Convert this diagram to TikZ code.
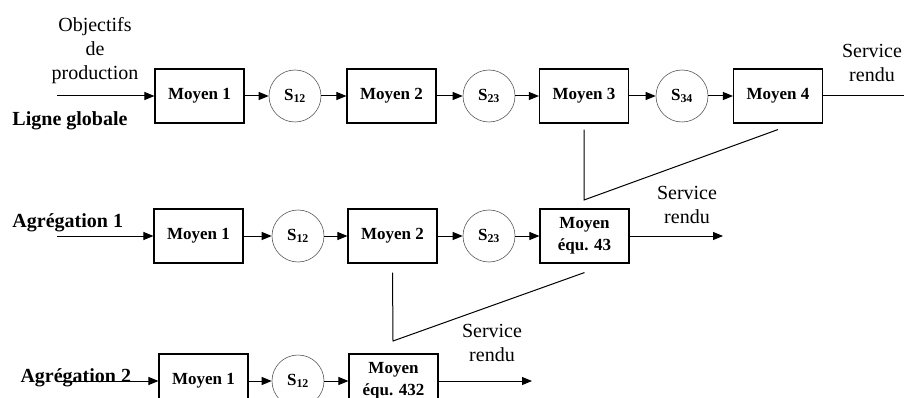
\documentclass[tikz,border=0pt]{standalone}
\usepackage{fontspec}
\setmainfont{Liberation Serif}
\usetikzlibrary{arrows.meta}

\begin{document}
\begin{tikzpicture}[x=1pt,y=-1pt,line width=1pt,>={Triangle[length=10pt,width=8pt]}]

\tikzstyle{moyen}=[draw,line width=1.1pt,minimum width=89pt,minimum height=54pt,inner sep=1pt,align=center,font=\fontsize{17}{22}\selectfont\bfseries];
\tikzstyle{stock}=[draw=black!65,circle,line width=0.6pt,minimum size=52pt,inner sep=0pt,font=\fontsize{17}{20}\selectfont\bfseries];
\tikzstyle{texte}=[align=center,font=\fontsize{20}{24}\selectfont];
\tikzstyle{ligne}=[anchor=base west,inner sep=0pt,font=\fontsize{20}{24}\selectfont\bfseries];

\useasboundingbox (0,0) rectangle (904,398);

\node[moyen] (m11) at (199.5,96) {Moyen 1};
\node[stock] (s11) at (295,96) {S\textsubscript{12}};
\node[moyen] (m12) at (391.5,96) {Moyen 2};
\node[stock] (s12) at (489,96) {S\textsubscript{23}};
\node[moyen] (m13) at (584,96) {Moyen 3};
\node[stock] (s13) at (682,96) {S\textsubscript{34}};
\node[moyen] (m14) at (778,96) {Moyen 4};
\node[texte] (obj) at (95,51) {Objectifs\\de\\production};
\node[ligne] (lg) at (12,126) {Ligne globale};
\node[texte] (sr1) at (872,63) {Service\\rendu};
\coordinate (in1) at (57,96);
\coordinate (out1) at (904,96);
\coordinate (b1) at (584,200);

\draw[->] (in1) -- (m11);
\foreach \a/\b in {m11/s11,s11/m12,m12/s12,s12/m13,m13/s13,s13/m14}
  \draw[->] (\a) -- (\b);
\draw (m14) -- (out1);
\draw ([yshift=-6pt]m13.south) -- (b1) -- ([yshift=-6pt]m14.south);

\node[moyen] (m21) at (198.5,236) {Moyen 1};
\node[stock] (s21) at (298,236) {S\textsubscript{12}};
\node[moyen] (m22) at (392.5,236) {Moyen 2};
\node[stock] (s22) at (489,236) {S\textsubscript{23}};
\node[moyen] (e43) at (584.5,236) {Moyen\\équ. 43};
\node[ligne] (ag1) at (12,227) {Agrégation 1};
\node[texte] (sr2) at (687,205) {Service\\rendu};
\coordinate (in2) at (57,236);
\coordinate (out2) at (723,236);
\coordinate (b2) at (393,341);

\draw[->] (in2) -- (m21);
\foreach \a/\b in {m21/s21,s21/m22,m22/s22,s22/e43}
  \draw[->] (\a) -- (\b);
\draw[->] (e43) -- (out2);
\draw ([yshift=-9pt]m22.south) -- (b2) -- ([yshift=-9pt]e43.south);

\node[moyen] (m31) at (203.5,381) {Moyen 1};
\node[stock] (s31) at (298,381) {S\textsubscript{12}};
\node[moyen] (e432) at (393.5,381) {Moyen\\équ. 432};
\node[ligne] (ag2) at (20,382) {Agrégation 2};
\node[texte] (sr3) at (492,343) {Service\\rendu};
\coordinate (in3) at (59,381);
\coordinate (out3) at (532,381);

\draw[->] (in3) -- (m31);
\draw[->] (m31) -- (s31);
\draw[->] (s31) -- (e432);
\draw[->] (e432) -- (out3);
\end{tikzpicture}
\end{document}
